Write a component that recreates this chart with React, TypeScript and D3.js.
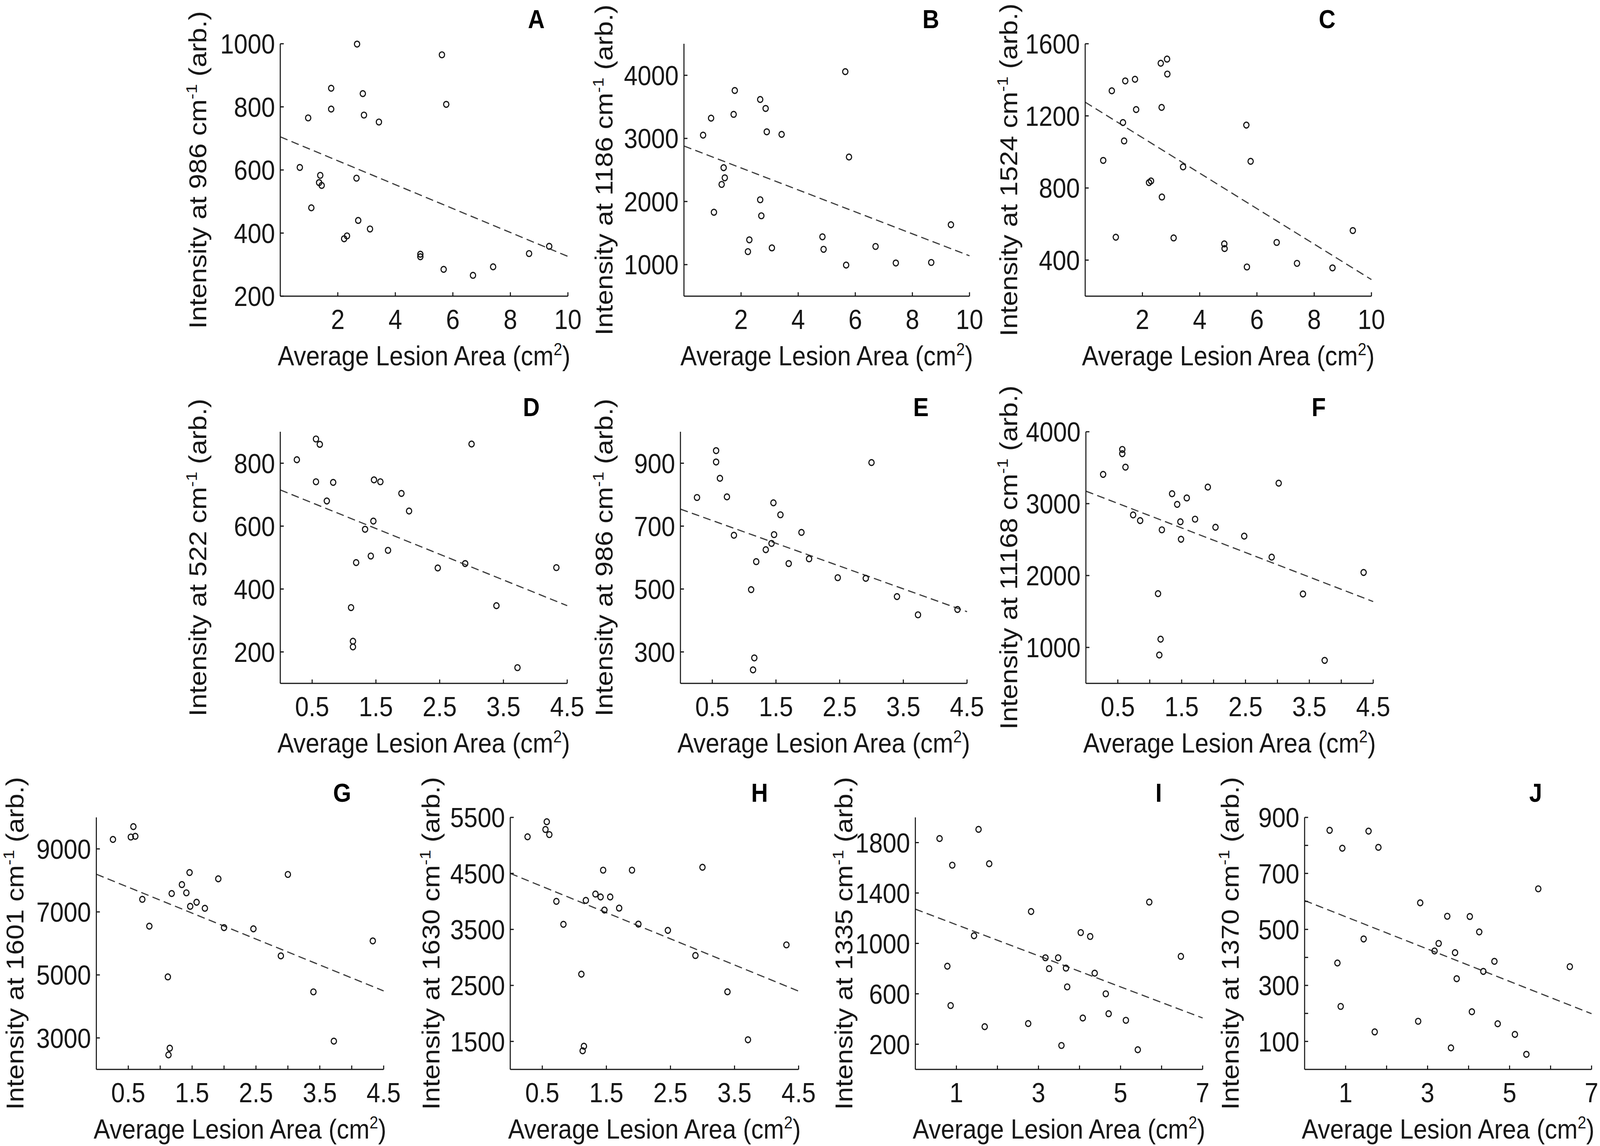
import * as d3 from "d3";

type Pt = [number, number];

// average lesion area (cm2), intensity (arb.)
const pointsA: Pt[] = [
  [0.68, 608], [0.97, 765], [1.08, 480], [1.39, 583], [1.35, 560], [1.44, 551], [1.77, 859],
  [1.77, 793], [2.22, 382], [2.32, 391], [2.67, 999], [2.65, 574], [2.71, 440], [2.87, 842],
  [2.91, 774], [3.12, 413], [3.43, 752], [4.87, 333], [4.87, 325], [5.62, 965], [5.77, 808],
  [5.68, 285], [6.7, 266], [7.4, 293], [8.65, 335], [9.35, 358],
];
const pointsB: Pt[] = [
  [0.67, 3052], [0.95, 3321], [1.05, 1830], [1.39, 2536], [1.43, 2376], [1.32, 2271], [1.78, 3759],
  [1.74, 3381], [2.29, 1393], [2.24, 1206], [2.67, 3617], [2.86, 3475], [2.9, 3105], [2.67, 2028],
  [2.71, 1774], [3.08, 1265], [3.42, 3064], [4.85, 1441], [4.89, 1243], [5.65, 4058], [5.78, 2705],
  [5.68, 993], [6.71, 1288], [7.42, 1026], [8.66, 1034], [9.35, 1632],
];
const pointsC: Pt[] = [
  [0.63, 953], [0.93, 1339], [1.07, 527], [1.4, 1394], [1.32, 1163], [1.36, 1061], [1.74, 1403],
  [1.78, 1235], [2.23, 830], [2.3, 839], [2.64, 1492], [2.86, 1515], [2.87, 1432], [2.67, 1247],
  [2.68, 750], [3.09, 523], [3.42, 917], [4.86, 490], [4.87, 464], [5.63, 1149], [5.78, 948],
  [5.65, 362], [6.69, 498], [7.4, 382], [8.64, 357], [9.35, 564],
];
const pointsD: Pt[] = [
  [0.26, 811], [0.56, 877], [0.62, 860], [0.56, 741], [0.83, 739], [0.73, 680], [1.11, 341],
  [1.14, 234], [1.14, 216], [1.19, 484], [1.33, 590], [1.42, 505], [1.46, 616], [1.47, 747],
  [1.57, 741], [1.69, 523], [1.9, 704], [2.02, 648], [2.47, 467], [2.9, 481], [3.0, 861],
  [3.39, 347], [3.72, 150], [4.33, 468],
];
const pointsE: Pt[] = [
  [0.26, 791], [0.56, 940], [0.56, 904], [0.62, 852], [0.73, 793], [0.84, 671], [1.11, 498],
  [1.16, 281], [1.14, 243], [1.19, 587], [1.34, 625], [1.43, 645], [1.47, 673], [1.46, 774],
  [1.57, 736], [1.7, 581], [1.9, 680], [2.02, 596], [2.47, 536], [2.91, 534], [3.0, 902],
  [3.4, 476], [3.73, 418], [4.35, 435],
];
const pointsF: Pt[] = [
  [0.27, 3407], [0.57, 3754], [0.57, 3695], [0.62, 3508], [0.74, 2843], [0.85, 2764], [1.13, 1748],
  [1.17, 1115], [1.15, 895], [1.19, 2636], [1.35, 3138], [1.43, 2990], [1.48, 2748], [1.49, 2505],
  [1.58, 3079], [1.71, 2784], [1.91, 3230], [2.03, 2672], [2.48, 2548], [2.91, 2256], [3.02, 3285],
  [3.4, 1744], [3.74, 820], [4.35, 2043],
];
const pointsG: Pt[] = [
  [0.26, 9301], [0.54, 9377], [0.58, 9707], [0.61, 9400], [0.72, 7399], [0.83, 6548], [1.12, 4937],
  [1.15, 2675], [1.13, 2460], [1.18, 7583], [1.34, 7867], [1.41, 7606], [1.46, 8250], [1.47, 7176],
  [1.57, 7307], [1.7, 7115], [1.91, 8051], [2.0, 6502], [2.46, 6463], [2.89, 5604], [3.0, 8189],
  [3.4, 4462], [3.72, 2897], [4.33, 6080],
];
const pointsH: Pt[] = [
  [0.27, 5154], [0.57, 5422], [0.55, 5284], [0.61, 5193], [0.72, 4001], [0.83, 3591], [1.11, 2701],
  [1.15, 1414], [1.13, 1332], [1.18, 4018], [1.33, 4131], [1.41, 4079], [1.45, 4558], [1.47, 3846],
  [1.56, 4079], [1.7, 3880], [1.9, 4558], [2.0, 3595], [2.46, 3483], [2.89, 3034], [3.0, 4610],
  [3.39, 2386], [3.71, 1530], [4.31, 3224],
];
const pointsI: Pt[] = [
  [0.59, 1832], [0.9, 1621], [0.78, 819], [0.86, 507], [1.43, 1061], [1.54, 1905], [1.8, 1632],
  [1.69, 339], [2.82, 1253], [2.75, 364], [3.17, 886], [3.26, 800], [3.48, 886], [3.67, 804],
  [3.7, 655], [3.56, 190], [4.03, 1086], [4.26, 1055], [4.37, 764], [4.08, 408], [4.64, 600],
  [4.71, 442], [5.13, 390], [5.42, 156], [5.7, 1328], [6.47, 897],
];
const pointsJ: Pt[] = [
  [0.61, 854], [0.92, 790], [0.8, 380], [0.88, 225], [1.44, 466], [1.56, 851], [1.8, 793],
  [1.71, 134], [2.82, 595], [2.77, 172], [3.17, 423], [3.27, 450], [3.48, 547], [3.67, 417],
  [3.71, 324], [3.57, 77], [4.03, 546], [4.26, 491], [4.36, 350], [4.08, 206], [4.63, 386],
  [4.71, 163], [5.13, 125], [5.41, 54], [5.7, 645], [6.47, 367],
];

// ends of the fitted (dashed) lines
const fitA: Pt[] = [[0, 705], [10, 326]];
const fitB: Pt[] = [[0, 2880], [10, 1140]];
const fitC: Pt[] = [[0, 1276], [10, 292]];
const fitD: Pt[] = [[0, 715], [4.5, 347]];
const fitE: Pt[] = [[0, 754], [4.5, 428]];
const fitF: Pt[] = [[0, 3174], [4.5, 1638]];
const fitG: Pt[] = [[0, 8196], [4.5, 4492]];
const fitH: Pt[] = [[0, 4500], [4.5, 2398]];
const fitI: Pt[] = [[0, 1272], [7, 408]];
const fitJ: Pt[] = [[0, 603], [7, 199]];

// tick labels
const xTicks10 = [2, 4, 6, 8, 10];
const xTicks45 = [0.5, 1.5, 2.5, 3.5, 4.5];
const xMinor45 = [1, 2, 3, 4];
const xTicks7 = [1, 3, 5, 7];
const xMinor7 = [2, 4, 6];
const yTicksA = [200, 400, 600, 800, 1000];
const yTicksB = [1000, 2000, 3000, 4000];
const yTicksC = [400, 800, 1200, 1600];
const yTicksD = [200, 400, 600, 800];
const yTicksE = [300, 500, 700, 900];
const yTicksF = [1000, 2000, 3000, 4000];
const yTicksG = [3000, 5000, 7000, 9000];
const yTicksH = [1500, 2500, 3500, 4500, 5500];
const yTicksI = [200, 600, 1000, 1400, 1800];
const yTicksJ = [100, 300, 500, 700, 900];
const yMinorJ = [200, 400, 600, 800];

const W = 4550;
const H = 2933;

const ROW1 = { top: 112, bottom: 758 };
const ROW2 = { top: 1105, bottom: 1749 };
const ROW3 = { top: 2092, bottom: 2737 };

const panels = [
  { id: "A", wave: "986", points: pointsA, fit: fitA, xMax: 10, yDomain: [200, 1000], xTicks: xTicks10, yTicks: yTicksA, left: 797, right: 1615, ...ROW1, letterX: 1525, titleX: 561 },
  { id: "B", wave: "1186", points: pointsB, fit: fitB, xMax: 10, yDomain: [500, 4500], xTicks: xTicks10, yTicks: yTicksB, left: 1945, right: 2757, ...ROW1, letterX: 2647, titleX: 1717 },
  { id: "C", wave: "1524", points: pointsC, fit: fitC, xMax: 10, yDomain: [200, 1600], xTicks: xTicks10, yTicks: yTicksC, left: 3086, right: 3900, ...ROW1, letterX: 3774, titleX: 2867 },
  { id: "D", wave: "522", points: pointsD, fit: fitD, xMax: 4.5, yDomain: [100, 900], xTicks: xTicks45, yTicks: yTicksD, left: 797, right: 1613, ...ROW2, letterX: 1511, titleX: 561 },
  { id: "E", wave: "986", points: pointsE, fit: fitE, xMax: 4.5, yDomain: [200, 1000], xTicks: xTicks45, yTicks: yTicksE, left: 1935, right: 2750, ...ROW2, letterX: 2619, titleX: 1717 },
  { id: "F", wave: "11168", points: pointsF, fit: fitF, xMax: 4.5, yDomain: [500, 4000], xTicks: xTicks45, xMinor: xMinor45, yTicks: yTicksF, left: 3088, right: 3905, ...ROW2, letterX: 3750, titleX: 2867 },
  { id: "G", wave: "1601", points: pointsG, fit: fitG, xMax: 4.5, yDomain: [2000, 10000], xTicks: xTicks45, xMinor: xMinor45, yTicks: yTicksG, left: 274, right: 1091, ...ROW3, letterX: 973, titleX: 41 },
  { id: "H", wave: "1630", points: pointsH, fit: fitH, xMax: 4.5, yDomain: [1000, 5500], xTicks: xTicks45, yTicks: yTicksH, left: 1451, right: 2271, ...ROW3, letterX: 2160, titleX: 1225 },
  { id: "I", wave: "1335", points: pointsI, fit: fitI, xMax: 7, yDomain: [0, 2000], xTicks: xTicks7, xMinor: xMinor7, yTicks: yTicksI, left: 2603, right: 3420, ...ROW3, letterX: 3295, titleX: 2399 },
  { id: "J", wave: "1370", points: pointsJ, fit: fitJ, xMax: 7, yDomain: [0, 900], xTicks: xTicks7, xMinor: xMinor7, yTicks: yTicksJ, yMinor: yMinorJ, left: 3710, right: 4526, ...ROW3, letterX: 4367, titleX: 3497 },
];

const FONT = "'Liberation Sans', Arial, Helvetica, sans-serif";
const INK = "#161616";
const TICK = 10;

function Panel({ p }: { p: any }) {
  const x = d3.scaleLinear().domain([0, p.xMax]).range([p.left, p.right]);
  const y = d3.scaleLinear().domain(p.yDomain).range([p.bottom, p.top]);
  const line = d3.line<Pt>().x((d) => x(d[0])).y((d) => y(d[1]));
  const midY = (p.top + p.bottom) / 2;
  const midX = (p.left + p.right) / 2;

  return (
    <g>
      <path d={line(p.fit) || ""} fill="none" stroke="#3a3a3a" strokeWidth={3} strokeDasharray="22,12" />
      {p.points.map((d: Pt, i: number) => (
        <circle key={i} cx={x(d[0])} cy={y(d[1])} r={7.5} fill="none" stroke={INK} strokeWidth={3.2} />
      ))}

      {/* axes */}
      <line x1={p.left} x2={p.left} y1={p.top} y2={p.bottom} stroke={INK} strokeWidth={3} />
      <line x1={p.left} x2={p.right} y1={p.bottom} y2={p.bottom} stroke={INK} strokeWidth={3} />

      {[...p.xTicks, ...(p.xMinor || [])].map((t: number) => (
        <line key={"xt" + t} x1={x(t)} x2={x(t)} y1={p.bottom} y2={p.bottom - TICK} stroke={INK} strokeWidth={3} />
      ))}
      {[...p.yTicks, ...(p.yMinor || [])].map((t: number) => (
        <line key={"yt" + t} x1={p.left} x2={p.left + TICK} y1={y(t)} y2={y(t)} stroke={INK} strokeWidth={3} />
      ))}

      {p.xTicks.map((t: number) => (
        <text key={"xl" + t} x={x(t)} y={p.bottom + 84} textAnchor="middle" fontSize={70} fill={INK}>
          {String(t)}
        </text>
      ))}
      {p.yTicks.map((t: number) => (
        <text key={"yl" + t} x={p.left - 15} y={y(t)} dy="0.36em" textAnchor="end" fontSize={70} fill={INK}>
          {String(t)}
        </text>
      ))}

      <text x={midX} y={p.bottom + 177} textAnchor="middle" fontSize={70} fill={INK}>
        Average Lesion Area (cm<tspan fontSize={44} dy={-26}>2</tspan>
        <tspan dy={26}>)</tspan>
      </text>

      <text
        transform={`translate(${p.titleX},${midY}) rotate(-90)`}
        textAnchor="middle"
        dy="0.36em"
        fontSize={70}
        fill={INK}
      >
        {`Intensity at ${p.wave} cm`}
        <tspan fontSize={44} dy={-26}>-1</tspan>
        <tspan dy={26}> (arb.)</tspan>
      </text>

      <text x={p.letterX} y={p.top - 40} textAnchor="middle" fontSize={66} fontWeight="bold" fill="#000">
        {p.id}
      </text>
    </g>
  );
}

export default function App() {
  // fill the whole viewport so the panels sit where they do in the figure
  return (
    <svg
      viewBox={`0 0 ${W} ${H}`}
      preserveAspectRatio="none"
      style={{ position: "absolute", left: 0, top: 0, width: "100vw", height: "100vh", display: "block", background: "#fff" }}
      fontFamily={FONT}
    >
      <rect width={W} height={H} fill="#fff" />
      {panels.map((p) => (
        <Panel key={p.id} p={p} />
      ))}
    </svg>
  );
}
